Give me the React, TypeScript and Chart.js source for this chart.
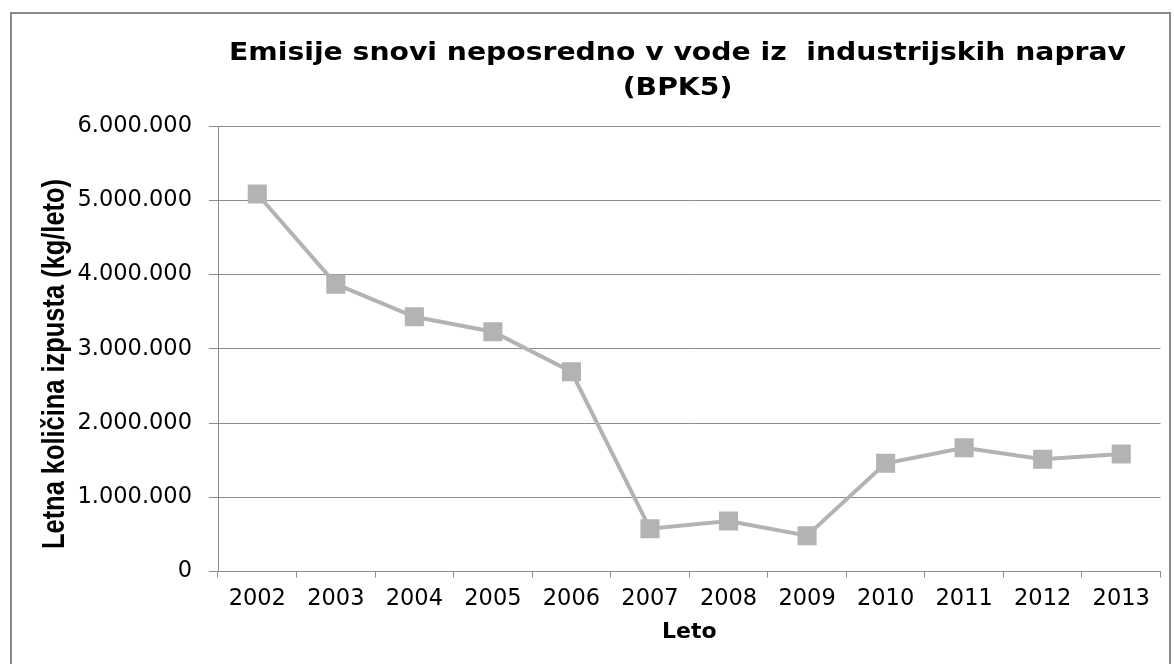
import React, { useEffect, useRef } from 'react';
import { Chart, registerables } from 'chart.js';

Chart.register(...registerables);

const years = ['2002', '2003', '2004', '2005', '2006', '2007', '2008', '2009', '2010', '2011', '2012', '2013'];
const emissions = [5085000, 3870000, 3430000, 3230000, 2690000, 576000, 680000, 482000, 1457000, 1667000, 1511000, 1582000];
const titleLines = ['Emisije snovi neposredno v vode iz  industrijskih naprav', '(BPK5)'];
const yAxisTitle = 'Letna količina izpusta (kg/leto)';
const xAxisTitle = 'Leto';
const yMin = 0;
const yMax = 6000000;
const yStep = 1000000;

const fmt = (v: number) => String(Math.round(v)).replace(/\B(?=(\d{3})+(?!\d))/g, '.');

export default function App() {
  const ref = useRef<HTMLCanvasElement>(null);

  useEffect(() => {
    if (!ref.current) return;
    const textPlugin = {
      id: 'extraTexts',
      afterDraw(chart: any) {
        const ctx = chart.ctx as CanvasRenderingContext2D;
        ctx.save();
        ctx.fillStyle = '#000000';
        ctx.font = 'bold 24px "DejaVu Sans"';
        ctx.textAlign = 'center';
        ctx.textBaseline = 'alphabetic';
        const w = ctx.measureText(titleLines[0]).width;
        const sx = w > 0 ? 897 / w : 1;
        ctx.translate(677.5, 0);
        ctx.scale(sx, 1);
        ctx.fillText(titleLines[0], 0, 60);
        ctx.fillText(titleLines[1], 0, 95);
        ctx.restore();

        ctx.save();
        ctx.fillStyle = '#000000';
        ctx.translate(64, 364);
        ctx.rotate(-Math.PI / 2);
        ctx.scale(0.82, 1);
        ctx.font = 'bold 31px "Liberation Sans"';
        ctx.textAlign = 'center';
        ctx.textBaseline = 'alphabetic';
        ctx.fillText(yAxisTitle, 0, 0);
        ctx.restore();
      },
    };

    const chart = new Chart(ref.current, {
      type: 'line',
      data: {
        labels: years,
        datasets: [
          {
            data: emissions,
            borderColor: '#b3b3b3',
            backgroundColor: '#b3b3b3',
            borderWidth: 4,
            pointStyle: 'rect',
            pointRadius: 13.5,
            pointHoverRadius: 13.5,
            pointBorderWidth: 0,
            pointBackgroundColor: '#b3b3b3',
            tension: 0,
          },
        ],
      },
      options: {
        animation: false,
        responsive: false,
        devicePixelRatio: 1,
        layout: { padding: { left: 0, top: 126, right: 8, bottom: 0 } },
        plugins: {
          legend: { display: false },
          tooltip: { enabled: false },
          title: { display: false },
        },
        scales: {
          x: {
            type: 'category',
            offset: true,
            afterFit: (scale: any) => {
              scale.height = 92.5;
            },
            grid: {
              offset: true,
              drawOnChartArea: false,
              drawTicks: true,
              tickLength: 6,
              color: '#8c8c8c',
            },
            border: { display: true, color: '#8c8c8c', width: 1 },
            ticks: {
              color: '#000000',
              font: { family: 'DejaVu Sans', size: 22.5 },
              padding: 8,
              maxRotation: 0,
              autoSkip: false,
            },
            title: {
              display: true,
              text: xAxisTitle,
              color: '#000000',
              font: { family: 'DejaVu Sans', size: 22, weight: 'bold' },
              padding: { top: 0, bottom: 19 },
            },
          },
          y: {
            min: yMin,
            max: yMax,
            afterFit: (scale: any) => {
              scale.width = 218;
            },
            grid: {
              color: '#8c8c8c',
              drawTicks: true,
              tickLength: 9,
            },
            border: { display: true, color: '#8c8c8c', width: 1 },
            ticks: {
              stepSize: yStep,
              color: '#000000',
              font: { family: 'DejaVu Sans', size: 22.5 },
              padding: 17,
              callback: (v: any) => fmt(Number(v)),
            },
          },
        },
      },
      plugins: [textPlugin],
    });
    return () => chart.destroy();
  }, []);

  return (
    <div style={{ position: 'fixed', left: 0, top: 0, width: 1174, height: 664, background: '#ffffff', overflow: 'hidden' }}>
      <canvas ref={ref} width={1174} height={664} style={{ display: 'block', position: 'absolute', left: 0, top: 0 }} />
      <div
        style={{
          position: 'absolute',
          left: 10,
          top: 12,
          width: 1161,
          height: 700,
          border: '2px solid #8a8a8a',
          boxSizing: 'border-box',
          pointerEvents: 'none',
        }}
      />
    </div>
  );
}
